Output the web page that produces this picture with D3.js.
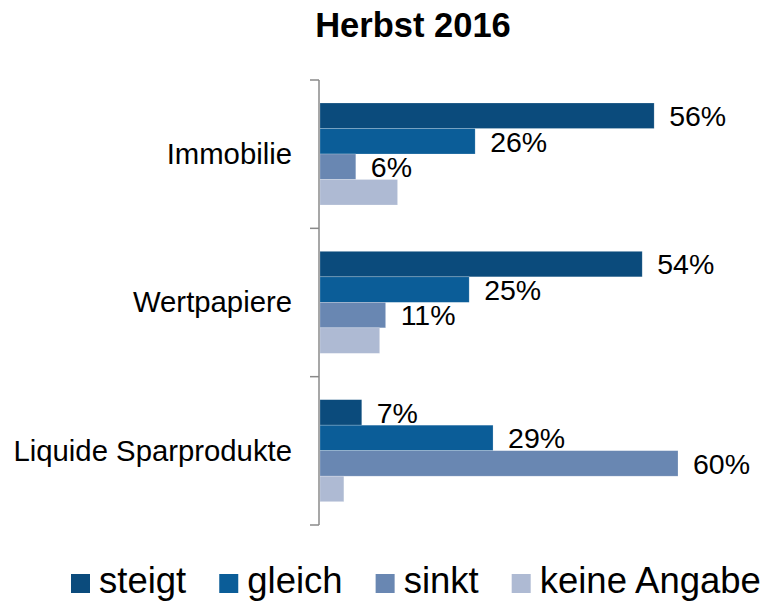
<!DOCTYPE html>
<html>
<head>
<meta charset="utf-8">
<script src="https://cdn.jsdelivr.net/npm/d3@7"></script>
<style>
  body { margin: 0; background: #fff; }
  svg { display: block; font-family: "Liberation Sans", Arial, sans-serif; }
</style>
</head>
<body>
<svg id="chart" width="766" height="602"></svg>
<script>
// Daten
const categories = ["Immobilie", "Wertpapiere", "Liquide Sparprodukte"];
const series = ["steigt", "gleich", "sinkt", "keine Angabe"];
const steigt = [56, 54, 7];
const gleich = [26, 25, 29];
const sinkt = [6, 11, 60];
const keineAngabe = [13, 10, 4];
const showLabel = [true, true, true, false];
const colors = ["#0b4b7c", "#0b5d98", "#6987b2", "#aebad3"];

const valuesBySeries = [steigt, gleich, sinkt, keineAngabe];
const rows = [];
categories.forEach((c, i) => {
    series.forEach((s, j) => {
        rows.push({cat: c, series: s, value: valuesBySeries[j][i], idx: j});
    });
});

const svg = d3.select("#chart");

// Skalen
const y = d3.scaleBand().domain(categories).range([80, 525]);
const yInner = d3.scaleBand().domain(series).range([23, 125]);
const x = d3.scaleLinear().domain([0, 60]).range([320, 678]);
const color = d3.scaleOrdinal().domain(series).range(colors);

// Titel
svg.append("text")
    .attr("x", 413)
    .attr("y", 37)
    .attr("text-anchor", "middle")
    .style("font-size", "34.5px")
    .style("font-weight", "bold")
    .text("Herbst 2016");

// Balken
svg.append("g")
    .selectAll("rect")
    .data(rows)
    .join("rect")
    .attr("x", x(0))
    .attr("y", d => y(d.cat) + yInner(d.series))
    .attr("width", d => x(d.value) - x(0))
    .attr("height", yInner.bandwidth())
    .attr("fill", d => color(d.series))
    .attr("stroke", "#ffffff")
    .attr("stroke-opacity", 0.35)
    .attr("stroke-width", 0.6);

// Werte
svg.append("g")
    .selectAll("text")
    .data(rows.filter(d => showLabel[d.idx]))
    .join("text")
    .attr("x", d => x(d.value) + 15)
    .attr("y", d => y(d.cat) + yInner(d.series) + yInner.bandwidth() / 2)
    .attr("dy", "0.36em")
    .style("font-size", "28.5px")
    .style("fill", "#000")
    .text(d => d.value + "%");

// Achse (Kategorien)
const axis = svg.append("g")
    .attr("transform", `translate(${x(0) - 1},0)`)
    .call(d3.axisLeft(y).tickSize(0).tickPadding(27));
axis.select(".domain").remove();
axis.selectAll("text")
    .style("font-size", "29.3px")
    .style("font-family", "'Liberation Sans', Arial, sans-serif")
    .attr("dy", "0.33em")
    .attr("fill", "#000");

// Achsenlinie mit Trennstrichen zwischen den Kategorien
const bounds = categories.map(c => y(c)).concat([y.range()[1]]);
svg.append("line")
    .attr("x1", x(0) - 1).attr("x2", x(0) - 1)
    .attr("y1", bounds[0]).attr("y2", bounds[bounds.length - 1])
    .attr("stroke", "#8a8a8a").attr("stroke-width", 1.5);
svg.append("g")
    .selectAll("line")
    .data(bounds)
    .join("line")
    .attr("x1", x(0) - 10).attr("x2", x(0) - 1)
    .attr("y1", d => d).attr("y2", d => d)
    .attr("stroke", "#8a8a8a").attr("stroke-width", 1.5);

// Legende
const legend = svg.append("g").attr("transform", "translate(71,0)");
let lx = 0;
series.forEach((s, i) => {
    const item = legend.append("g").attr("transform", `translate(${lx},0)`);
    item.append("rect")
        .attr("x", 0).attr("y", 574)
        .attr("width", 19).attr("height", 19)
        .attr("fill", color(s));
    const t = item.append("text")
        .attr("x", 28).attr("y", 593)
        .style("font-size", "36.5px")
        .text(s);
    lx += 28 + t.node().getComputedTextLength() + 33;
});
</script>
</body>
</html>
